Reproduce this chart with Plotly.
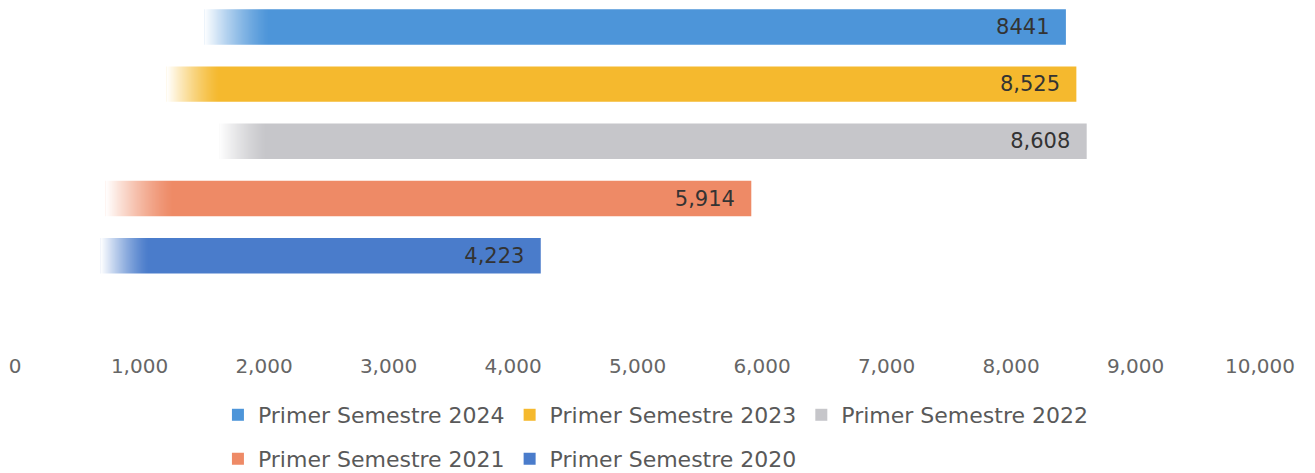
import base64
import struct
import zlib

import plotly.graph_objects as go

# datos
series = ["Primer Semestre 2024", "Primer Semestre 2023", "Primer Semestre 2022",
          "Primer Semestre 2021", "Primer Semestre 2020"]
valores = [8441, 8525, 8608, 5914, 4223]
etiquetas = ["8441", "8,525", "8,608", "5,914", "4,223"]
ticks = [0, 1000, 2000, 3000, 4000, 5000, 6000, 7000, 8000, 9000, 10000]

# estilo
colores = ["#4D95D9", "#F5B92E", "#C6C6CA", "#EE8A66", "#4A7CCB"]
# zona desvanecida a la izquierda de cada barra (inicio, fin) en unidades del eje
fade = [(1520, 2050), (1220, 1650), (1640, 2030), (730, 1280), (690, 1080)]
ancho_barra = 0.62
fuente = "DejaVu Sans"


def png_degradado(w=256, h=4):
    # blanco opaco -> transparente, de izquierda a derecha
    fila = b"\x00" + b"".join(
        bytes([255, 255, 255, int(255 * (1 - i / (w - 1)) ** 1.3)]) for i in range(w))
    raw = fila * h

    def chunk(t, d):
        return struct.pack(">I", len(d)) + t + d + struct.pack(">I", zlib.crc32(t + d) & 0xffffffff)

    png = (b"\x89PNG\r\n\x1a\n"
           + chunk(b"IHDR", struct.pack(">IIBBBBB", w, h, 8, 6, 0, 0, 0))
           + chunk(b"IDAT", zlib.compress(raw))
           + chunk(b"IEND", b""))
    return "data:image/png;base64," + base64.b64encode(png).decode()


grad = png_degradado()

fig = go.Figure()
n = len(series)
for i, nombre in enumerate(series):
    fig.add_trace(go.Bar(
        y=[nombre],
        x=[valores[i]],
        orientation="h",
        name=nombre,
        width=ancho_barra,
        marker=dict(color=colores[i], line=dict(width=0)),
        text=[etiquetas[i]],
        texttemplate="%{text}\u00a0\u00a0",
        textposition="inside",
        insidetextanchor="end",
        textfont=dict(family=fuente, size=21, color="#333333"),
        legend="legend" if i < 3 else "legend2",
        hoverinfo="skip",
    ))

shapes = []
images = []
for i in range(n):
    idx = n - 1 - i
    x0, x1 = fade[i]
    shapes.append(dict(type="rect", xref="x", yref="y", layer="above",
                       x0=-200, x1=x0, y0=idx - ancho_barra / 2 - 0.02,
                       y1=idx + ancho_barra / 2 + 0.02,
                       fillcolor="white", line=dict(width=0)))
    images.append(dict(source=grad, xref="x", yref="y", x=x0 - 1, y=idx,
                       xanchor="left", yanchor="middle",
                       sizex=x1 - x0, sizey=ancho_barra + 0.04,
                       sizing="stretch", layer="above"))

fig.update_layout(
    width=1315, height=473,
    margin=dict(l=7, r=63, t=0, b=133, autoexpand=False),
    paper_bgcolor="white", plot_bgcolor="white",
    barmode="overlay",
    font=dict(family=fuente, color="#595959"),
    xaxis=dict(range=[0, 10000], tickvals=ticks, tickformat=",",
               showgrid=False, zeroline=False, showline=False, automargin=False,
               tickfont=dict(size=20, color="#666666"), ticklabelstandoff=4),
    yaxis=dict(categoryorder="array", categoryarray=series[::-1],
               range=[-1.61, 4.33], showticklabels=False, automargin=False,
               showgrid=False, zeroline=False, showline=False),
    legend=dict(orientation="h", x=0.163, xanchor="left", y=-0.197, yanchor="middle",
                font=dict(size=22, color="#595959"), itemwidth=30,
                traceorder="normal"),
    legend2=dict(orientation="h", x=0.163, xanchor="left", y=-0.326, yanchor="middle",
                 font=dict(size=22, color="#595959"), itemwidth=30,
                 traceorder="normal"),
    shapes=shapes,
    images=images,
    showlegend=True,
)

fig.write_html("out.html")
